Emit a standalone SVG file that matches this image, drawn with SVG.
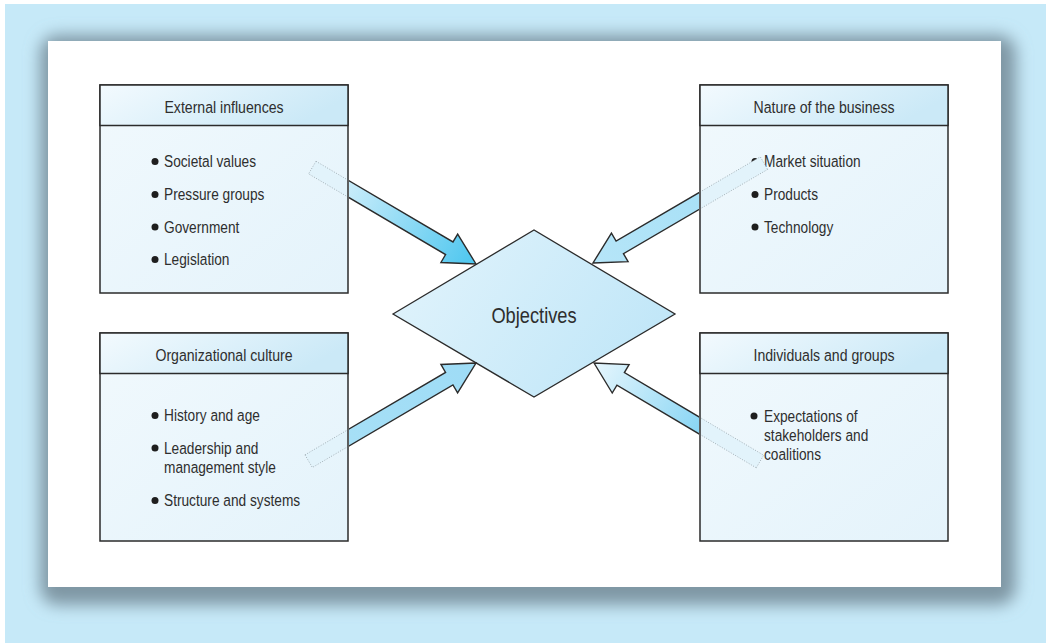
<svg xmlns="http://www.w3.org/2000/svg" width="1046" height="643" viewBox="0 0 1046 643">
<defs>
<style>
.box{stroke:#2b2b2b;stroke-width:1.5}
.hdr{fill:url(#hdrG)}
.body{fill:url(#bodyG)}
.t{font-family:"Liberation Sans",Arial,sans-serif;fill:#2e2e2e}
.title{font-size:17px;text-anchor:middle}
.item{font-size:16.5px}
.dot{fill:#1e1e1e}
.arrow{stroke:#2b2b2b;stroke-width:1.4;stroke-linejoin:miter}
.ghost{fill:#e2f3fb;stroke:#9aa6ad;stroke-width:0.8;stroke-dasharray:1 1.6}
</style>
<linearGradient id="hdrG" x1="0" y1="0" x2="1" y2="0.3">
<stop offset="0" stop-color="#f3fafe"/><stop offset="1" stop-color="#cbe9f7"/>
</linearGradient>
<linearGradient id="bodyG" x1="0" y1="0" x2="1" y2="1">
<stop offset="0" stop-color="#f1f9fd"/><stop offset="1" stop-color="#e4f3fb"/>
</linearGradient>
<linearGradient id="diaG" x1="0" y1="0" x2="1" y2="0.4">
<stop offset="0" stop-color="#e3f4fc"/><stop offset="1" stop-color="#c2e7f8"/>
</linearGradient>
<linearGradient id="a1" x1="-150" y1="0" x2="0" y2="0" gradientUnits="userSpaceOnUse">
<stop offset="0" stop-color="#c9ecfa"/><stop offset="1" stop-color="#4cc6ef"/>
</linearGradient>
<linearGradient id="a2" x1="-124" y1="0" x2="0" y2="0" gradientUnits="userSpaceOnUse">
<stop offset="0" stop-color="#a9e1f7"/><stop offset="1" stop-color="#b6e5f8"/>
</linearGradient>
<linearGradient id="a3" x1="-148" y1="0" x2="0" y2="0" gradientUnits="userSpaceOnUse">
<stop offset="0" stop-color="#a6dff6"/><stop offset="1" stop-color="#9edcf6"/>
</linearGradient>
<linearGradient id="a4" x1="-123" y1="0" x2="0" y2="0" gradientUnits="userSpaceOnUse">
<stop offset="0" stop-color="#8bd6f4"/><stop offset="1" stop-color="#e6f6fd"/>
</linearGradient>
<filter id="sh" x="-10%" y="-10%" width="120%" height="120%">
<feGaussianBlur stdDeviation="8"/>
</filter>
<clipPath id="outL"><rect x="349" y="0" width="400" height="643"/></clipPath>
<clipPath id="outR"><rect x="300" y="0" width="399" height="643"/></clipPath>
<clipPath id="inL"><rect x="100" y="85" width="247" height="460"/></clipPath>
<clipPath id="inR"><rect x="701" y="85" width="247" height="460"/></clipPath>
</defs>

<rect x="0" y="0" width="1046" height="643" fill="#ffffff"/>
<rect x="5" y="4" width="1041" height="639" fill="#c6e9f8"/>
<rect x="40" y="35" width="976" height="570" rx="18" fill="#7f97a4" filter="url(#sh)"/>
<rect x="48" y="41" width="953" height="546" fill="#ffffff"/>

<g id="node-external">
<rect class="box body" x="100" y="85" width="248" height="208"/>
<rect class="box hdr" x="100" y="85" width="248" height="40.5"/>
<text class="t title" transform="translate(224,113) scale(0.83,1)">External influences</text>
<circle class="dot" cx="155" cy="161.5" r="3.5"/><text class="t item" transform="translate(164,167) scale(0.83,1)">Societal values</text>
<circle class="dot" cx="155" cy="194.5" r="3.5"/><text class="t item" transform="translate(164,200) scale(0.83,1)">Pressure groups</text>
<circle class="dot" cx="155" cy="227" r="3.5"/><text class="t item" transform="translate(164,232.5) scale(0.83,1)">Government</text>
<circle class="dot" cx="155" cy="259.5" r="3.5"/><text class="t item" transform="translate(164,265) scale(0.83,1)">Legislation</text>
</g>

<g id="node-nature">
<rect class="box body" x="700" y="85" width="248" height="208"/>
<rect class="box hdr" x="700" y="85" width="248" height="40.5"/>
<text class="t title" transform="translate(824,113) scale(0.83,1)">Nature of the business</text>
<circle class="dot" cx="755" cy="161.5" r="3.5"/><text class="t item" transform="translate(764,167) scale(0.83,1)">Market situation</text>
<circle class="dot" cx="755" cy="194.5" r="3.5"/><text class="t item" transform="translate(764,200) scale(0.83,1)">Products</text>
<circle class="dot" cx="755" cy="227" r="3.5"/><text class="t item" transform="translate(764,232.5) scale(0.83,1)">Technology</text>
</g>

<g id="node-culture">
<rect class="box body" x="100" y="333" width="248" height="208"/>
<rect class="box hdr" x="100" y="333" width="248" height="40.5"/>
<text class="t title" transform="translate(224,361) scale(0.83,1)">Organizational culture</text>
<circle class="dot" cx="155" cy="415.5" r="3.5"/><text class="t item" transform="translate(164,421) scale(0.83,1)">History and age</text>
<circle class="dot" cx="155" cy="448" r="3.5"/><text class="t item" transform="translate(164,453.5) scale(0.83,1)">Leadership and</text>
<text class="t item" transform="translate(164,472.5) scale(0.83,1)">management style</text>
<circle class="dot" cx="155" cy="500.5" r="3.5"/><text class="t item" transform="translate(164,506) scale(0.83,1)">Structure and systems</text>
</g>

<g id="node-individuals">
<rect class="box body" x="700" y="333" width="248" height="208"/>
<rect class="box hdr" x="700" y="333" width="248" height="40.5"/>
<text class="t title" transform="translate(824,361) scale(0.83,1)">Individuals and groups</text>
<circle class="dot" cx="754" cy="416" r="3.5"/><text class="t item" transform="translate(764,421.5) scale(0.83,1)">Expectations of</text>
<text class="t item" transform="translate(764,440.5) scale(0.83,1)">stakeholders and</text>
<text class="t item" transform="translate(764,459.5) scale(0.83,1)">coalitions</text>
</g>

<g id="node-objectives">
<polygon points="393,314 534,230 675,314 534,397" fill="url(#diaG)" stroke="#2b2b2b" stroke-width="1.3"/>
<text class="t" transform="translate(534,323) scale(0.83,1)" font-size="22" text-anchor="middle">Objectives</text>
</g>

<g id="connectors">
<g clip-path="url(#inL)"><g transform="translate(476,264) rotate(30.5)"><rect class="ghost" x="-190" y="-7.3" width="60" height="14.6"/></g></g>
<g clip-path="url(#outL)"><g transform="translate(476,264) rotate(30.5)"><polygon class="arrow" fill="url(#a1)" points="0,0 -31,-16.5 -31,-7.3 -220,-7.3 -220,7.3 -31,7.3 -31,16.5"/></g></g>

<g clip-path="url(#inR)"><g transform="translate(593,263) rotate(149.7)"><rect class="ghost" x="-198" y="-7.3" width="90" height="14.6"/></g></g>
<g clip-path="url(#outR)"><g transform="translate(593,263) rotate(149.7)"><polygon class="arrow" fill="url(#a2)" points="0,0 -31,-16.5 -31,-7.3 -200,-7.3 -200,7.3 -31,7.3 -31,16.5"/></g></g>

<g clip-path="url(#inL)"><g transform="translate(476,363) rotate(-30.4)"><rect class="ghost" x="-194" y="-7.3" width="60" height="14.6"/></g></g>
<g clip-path="url(#outL)"><g transform="translate(476,363) rotate(-30.4)"><polygon class="arrow" fill="url(#a3)" points="0,0 -31,-16.5 -31,-7.3 -220,-7.3 -220,7.3 -31,7.3 -31,16.5"/></g></g>

<g clip-path="url(#inR)"><g transform="translate(594,363) rotate(210.7)"><rect class="ghost" x="-193" y="-7.3" width="90" height="14.6"/></g></g>
<g clip-path="url(#outR)"><g transform="translate(594,363) rotate(210.7)"><polygon class="arrow" fill="url(#a4)" points="0,0 -31,-16.5 -31,-7.3 -200,-7.3 -200,7.3 -31,7.3 -31,16.5"/></g></g>
</g>
</svg>
